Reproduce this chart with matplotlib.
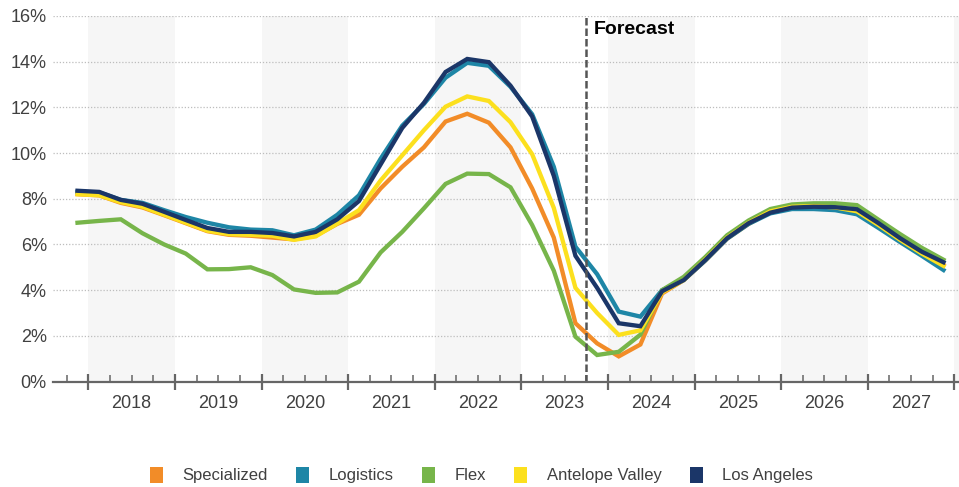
import numpy as np
import pandas as pd
import matplotlib
matplotlib.use("Agg")
import matplotlib.pyplot as plt
from matplotlib.patches import Patch
from matplotlib.ticker import FuncFormatter

# quarterly vacancy rate (%), 2017 Q4 through 2027 Q4
quarters = pd.period_range("2017Q4", "2027Q4", freq="Q")

specialized = [8.20, 8.15, 7.82, 7.62, 7.28, 6.93, 6.58, 6.42, 6.38, 6.30,
               6.22, 6.38, 6.90, 7.30, 8.45, 9.40, 10.25, 11.38, 11.72, 11.33,
               10.25, 8.45, 6.30, 2.55, 1.67, 1.10, 1.62, 3.85, 4.44, 5.30,
               6.25, 6.90, 7.42, 7.62, 7.66, 7.62, 7.48, 6.88, 6.22, 5.62, 5.10]
logistics = [8.30, 8.28, 7.95, 7.82, 7.50, 7.20, 6.95, 6.75, 6.65, 6.62,
             6.40, 6.65, 7.30, 8.15, 9.75, 11.20, 12.15, 13.30, 13.95, 13.82,
             12.90, 11.70, 9.40, 5.90, 4.70, 3.06, 2.84, 4.00, 4.44, 5.30,
             6.25, 6.90, 7.36, 7.55, 7.55, 7.50, 7.32, 6.72, 6.10, 5.50, 4.88]
flex = [6.95, 7.03, 7.10, 6.49, 6.00, 5.60, 4.91, 4.92, 5.00, 4.66,
        4.03, 3.88, 3.90, 4.37, 5.65, 6.55, 7.58, 8.65, 9.10, 9.08,
        8.50, 6.85, 4.85, 1.96, 1.16, 1.30, 2.05, 4.00, 4.58, 5.45,
        6.40, 7.05, 7.55, 7.75, 7.80, 7.80, 7.72, 7.08, 6.45, 5.85, 5.33]
antelope_valley = [8.20, 8.15, 7.85, 7.65, 7.30, 6.95, 6.60, 6.45, 6.42, 6.38,
                   6.20, 6.35, 6.92, 7.50, 8.80, 9.90, 11.00, 12.03, 12.48, 12.28,
                   11.35, 9.95, 7.60, 4.10, 3.00, 2.04, 2.24, 3.90, 4.44, 5.35,
                   6.30, 6.95, 7.45, 7.65, 7.68, 7.62, 7.45, 6.85, 6.20, 5.60, 5.06]
los_angeles = [8.35, 8.30, 7.95, 7.78, 7.43, 7.07, 6.72, 6.55, 6.55, 6.50,
               6.35, 6.55, 7.10, 7.90, 9.50, 11.10, 12.20, 13.55, 14.12, 13.98,
               12.95, 11.60, 9.00, 5.50, 4.10, 2.55, 2.42, 3.95, 4.44, 5.32,
               6.27, 6.93, 7.39, 7.61, 7.65, 7.63, 7.54, 6.93, 6.27, 5.68, 5.22]

series = [
    ("Specialized", specialized, "#F28C28"),
    ("Logistics", logistics, "#1E86A6"),
    ("Flex", flex, "#77B54A"),
    ("Antelope Valley", antelope_valley, "#FCE01E"),
    ("Los Angeles", los_angeles, "#1B3668"),
]

years = list(range(2018, 2028))
forecast_start = 2023.75

# points sit in the middle of each quarter
x = np.array([p.year + (p.quarter - 0.5) / 4 for p in quarters])

plt.rcParams["font.family"] = ["Liberation Sans", "DejaVu Sans"]
text_color = "#404040"

fig = plt.figure(figsize=(9.59, 4.87), dpi=100)
ax = fig.add_axes([53 / 959, 105.5 / 487, 906 / 959, 365.5 / 487])

# alternate year shading
for yr in range(2018, 2029, 2):
    ax.axvspan(yr, yr + 1, color="#F6F6F6", zorder=0, lw=0)

for val in range(2, 17, 2):
    ax.axhline(val, color="#BDBDBD", lw=0.9, ls=(0, (1, 1.5)), zorder=1)

for name, vals, col in series:
    ax.plot(x, vals, color=col, lw=3.1, solid_joinstyle="miter", zorder=3, label=name)

ax.axvline(forecast_start, color="#555555", lw=1.8, ls=(0, (3, 1.2)), zorder=4)
ax.text(forecast_start + 0.09, 15.8, "Forecast", fontsize=14, fontweight="bold",
        color="black", va="top", ha="left", zorder=5)

ax.set_xlim(2017.592, 2028.054)
ax.set_ylim(0, 16)

for side in ("top", "right", "left"):
    ax.spines[side].set_visible(False)
ax.spines["bottom"].set_color("#666666")
ax.spines["bottom"].set_linewidth(1.6)
ax.spines["bottom"].set_zorder(6)

ax.set_yticks(range(0, 17, 2))
ax.yaxis.set_major_formatter(FuncFormatter(lambda v, _: f"{v:.0f}%"))
ax.tick_params(axis="y", length=0, pad=4.5, labelsize=13, labelcolor=text_color)

ax.set_xticks(range(2018, 2029))
ax.set_xticklabels([])
ax.set_xticks([q / 4 for q in range(2017 * 4 + 3, 2028 * 4) if q % 4], minor=True)
ax.tick_params(axis="x", which="major", direction="inout", length=12,
               width=1.6, color="#666666")
ax.tick_params(axis="x", which="minor", direction="in", length=4.8,
               width=1.1, color="#666666")

for yr in years:
    ax.annotate(str(yr), xy=(yr + 0.5, 0), xycoords=("data", "axes fraction"),
                xytext=(0, -16), textcoords="offset points",
                ha="center", va="center", fontsize=13, color=text_color)

handles = [Patch(facecolor=col, edgecolor="none", label=name)
           for name, _, col in series]
fig.legend(handles=handles, loc="center", bbox_to_anchor=(0.502, 12 / 487),
           ncol=5, frameon=False, fontsize=12, labelcolor=text_color,
           handlelength=0.8, handleheight=1.1, handletextpad=1.15,
           columnspacing=1.7)

fig.savefig("out.png", dpi=100)
